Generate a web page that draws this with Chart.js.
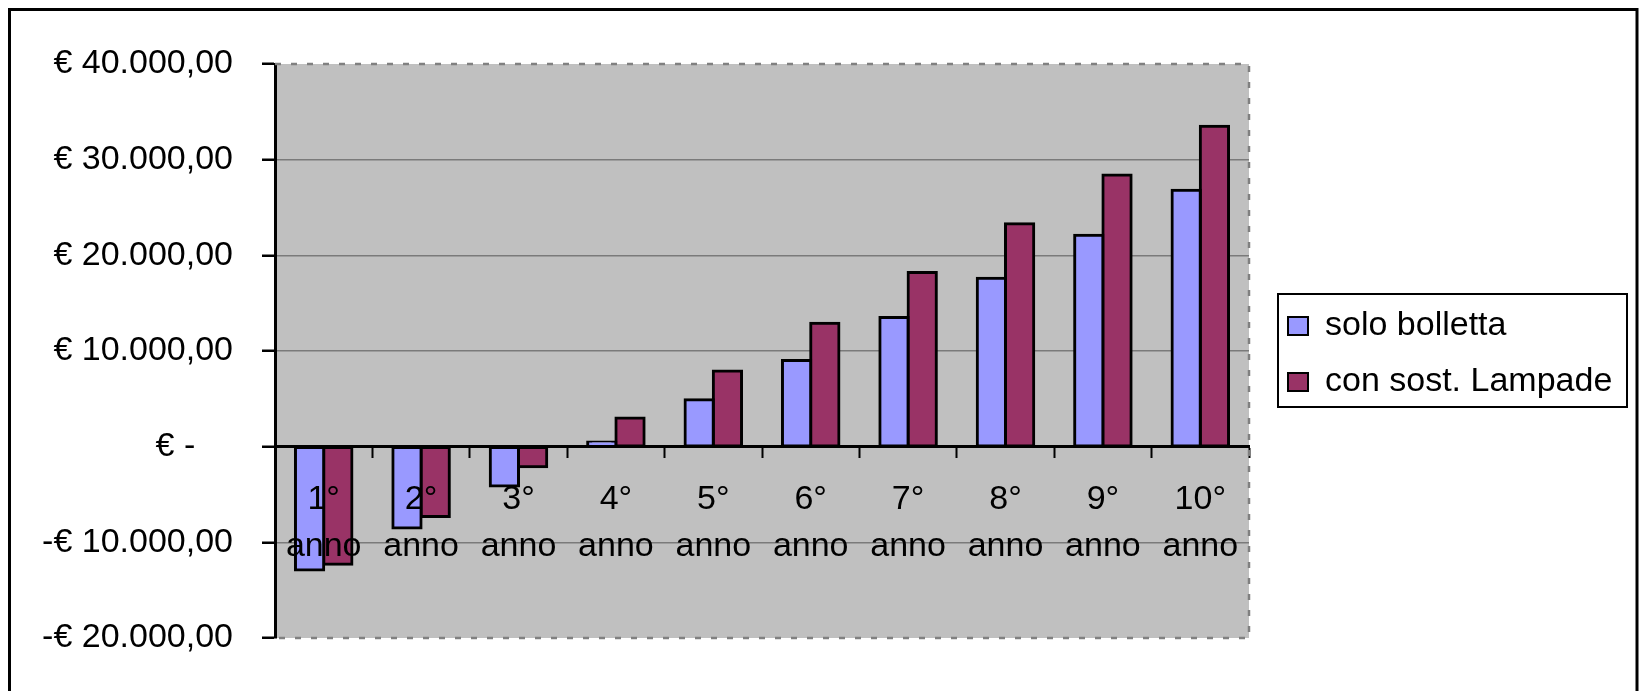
<!DOCTYPE html>
<html>
<head>
<meta charset="utf-8">
<script src="https://cdn.jsdelivr.net/npm/chart.js@4.4.1/dist/chart.umd.min.js"></script>
<style>
    html, body { margin: 0; padding: 0; background: #fff; }
    #wrap { position: relative; width: 1639px; height: 691px; }
</style>
</head>
<body>
<div id="wrap"><canvas id="savingsChart"></canvas></div>
<script>
var categories = [['1°', 'anno'], ['2°', 'anno'], ['3°', 'anno'], ['4°', 'anno'], ['5°', 'anno'],
                  ['6°', 'anno'], ['7°', 'anno'], ['8°', 'anno'], ['9°', 'anno'], ['10°', 'anno']];
var soloBolletta = [-12900, -8500, -4100, 500, 4900, 9000, 13500, 17600, 22100, 26800];
var conSostLampade = [-12300, -7300, -2100, 3000, 7900, 12900, 18200, 23300, 28400, 33500];
var yTickValues = [-20000, -10000, 0, 10000, 20000, 30000, 40000];
var yTickLabels = ['-€ 20.000,00', '-€ 10.000,00', '€ -    ', '€ 10.000,00', '€ 20.000,00', '€ 30.000,00', '€ 40.000,00'];

var FONT = "'Liberation Sans', Arial, sans-serif";

// Excel look: grey plot area, dashed frame, legend box and outer border
var excelFrame = {
    id: 'excelFrame',
    afterLayout: function (chart) {
        var lg = chart.legend;
        lg.left = 1266; lg.right = 1627;
        lg.top = 286; lg.bottom = 422;
        lg.width = lg.right - lg.left;
        lg.height = lg.bottom - lg.top;
    },
    beforeDraw: function (chart) {
        var a = chart.chartArea, ctx = chart.ctx;
        ctx.save();
        ctx.fillStyle = '#C0C0C0';
        ctx.fillRect(a.left, a.top, a.right - a.left, a.bottom - a.top);
        ctx.restore();
    },
    afterDraw: function (chart) {
        var a = chart.chartArea, ctx = chart.ctx;
        ctx.save();
        // dashed plot frame (top, right, bottom)
        ctx.strokeStyle = '#808080';
        ctx.lineWidth = 2.5;
        ctx.setLineDash([6, 10]);
        ctx.beginPath();
        ctx.moveTo(a.left, a.top); ctx.lineTo(a.right, a.top);
        ctx.lineTo(a.right, a.bottom); ctx.lineTo(a.left, a.bottom);
        ctx.stroke();
        ctx.setLineDash([]);
        // legend frame
        ctx.strokeStyle = '#000';
        ctx.lineWidth = 2;
        ctx.strokeRect(1278, 294, 349, 113);
        // outer chart border
        ctx.lineWidth = 3;
        ctx.strokeRect(9.5, 9.5, 1627.5, 700);
        ctx.restore();
    }
};

var ctx = document.getElementById('savingsChart').getContext('2d');
var savingsChart = new Chart(ctx, {
    type: 'bar',
    data: {
        labels: categories,
        datasets: [{
            label: 'solo bolletta',
            data: soloBolletta,
            backgroundColor: '#9999FF',
            borderColor: '#000',
            borderWidth: 3,
            borderSkipped: false,
            inflateAmount: 1.5
        }, {
            label: 'con sost. Lampade',
            data: conSostLampade,
            backgroundColor: '#993366',
            borderColor: '#000',
            borderWidth: 3,
            borderSkipped: false,
            inflateAmount: 1.5
        }]
    },
    options: {
        responsive: true,
        maintainAspectRatio: false,
        animation: false,
        layout: { padding: { left: 0, top: 64, right: 390, bottom: 53 } },
        datasets: { bar: { categoryPercentage: 0.58, barPercentage: 1 } },
        scales: {
            x: {
                position: { y: 0 },
                offset: true,
                grid: {
                    offset: true,
                    drawOnChartArea: false,
                    tickLength: 10,
                    tickColor: '#000',
                    tickWidth: 2
                },
                // axis line and labels sit on top of the bars, like Excel
                border: { color: '#000', width: 3, z: 1 },
                ticks: {
                    z: 1,
                    color: '#000',
                    padding: 19,
                    maxRotation: 0,
                    autoSkip: false,
                    font: { family: FONT, size: 34, lineHeight: 1.4 }
                }
            },
            y: {
                min: -20000,
                max: 40000,
                afterFit: function (scale) { scale.width = 275; },
                grid: {
                    color: function (c) {
                        var v = c.tick && c.tick.value;
                        return (v === 40000 || v === 0 || v === -20000) ? 'rgba(0,0,0,0)' : '#7a7a7a';
                    },
                    lineWidth: 1.5,
                    tickLength: 13,
                    tickColor: '#000',
                    tickWidth: 2.5
                },
                border: { color: '#000', width: 3 },
                ticks: {
                    stepSize: 10000,
                    color: '#000',
                    padding: 29,
                    font: { family: FONT, size: 34 },
                    callback: function (value) {
                        var i = yTickValues.indexOf(value);
                        return i >= 0 ? yTickLabels[i] : '';
                    }
                }
            }
        },
        plugins: {
            tooltip: { enabled: false },
            legend: {
                position: 'chartArea',
                labels: {
                    color: '#000',
                    font: { family: FONT, size: 34 },
                    boxWidth: 20,
                    boxHeight: 18,
                    padding: 22,
                    generateLabels: function (chart) {
                        var items = Chart.defaults.plugins.legend.labels.generateLabels(chart);
                        items.forEach(function (it) { it.lineWidth = 2; });
                        return items;
                    }
                }
            }
        }
    },
    plugins: [excelFrame]
});
</script>
</body>
</html>
